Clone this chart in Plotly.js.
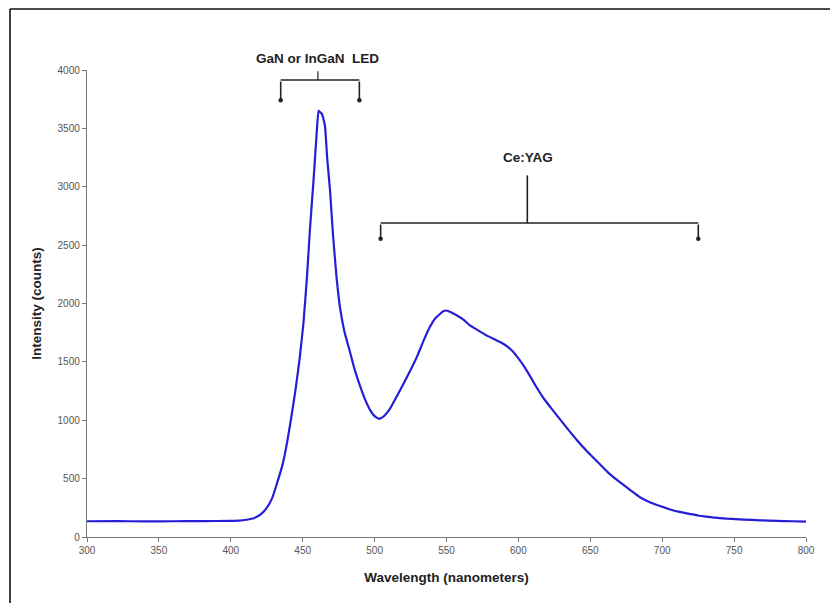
<!DOCTYPE html>
<html>
<head>
<meta charset="utf-8">
<script src="https://cdn.plot.ly/plotly-3.0.1.min.js"></script>
<style>
html,body{margin:0;padding:0;background:#fff;overflow:hidden;}
#chart{width:830px;height:603px;}
</style>
</head>
<body>
<div id="chart"></div>
<script>
// Emission spectrum of a white LED
const wavelength = [300,320,340,360,380,400,406,411,416,421,425,429,432,436,439,442,445,448,450.5,453,455,457.5,459.5,461,462,463.5,465.5,467,469,471,473.5,476,479,483,486,490,493,497,500,503,506,510.5,515,520,525,529.5,534,538.5,542,545.5,548,550,553,557,562,566,572,578,584,589.5,593,596.5,600,603.5,608,612.5,618,624,632,640,648,656.5,663,670.5,678,684.5,691,698.5,705,712,720,726,735,745,757,768,780,790,800];
const intensity = [135,136,134,135,136,138,140,148,160,195,250,340,455,620,800,1020,1260,1540,1830,2230,2630,3050,3420,3650,3640,3620,3520,3250,2970,2600,2230,1960,1760,1580,1440,1290,1190,1085,1035,1012,1030,1095,1195,1310,1430,1545,1680,1800,1870,1910,1935,1940,1925,1900,1860,1815,1770,1725,1690,1655,1625,1585,1530,1470,1380,1285,1180,1085,960,840,730,625,545,470,400,340,300,265,238,215,196,182,168,157,149,143,138,135,132];
const xTicks = [300,350,400,450,500,550,600,650,700,750,800];
const yTicks = [0,500,1000,1500,2000,2500,3000,3500,4000];
const xTitle = 'Wavelength (nanometers)';
const yTitle = 'Intensity (counts)';
const ledLabel = 'GaN or InGaN&nbsp; LED';
const yagLabel = 'Ce:YAG';

const trace = {
  x: wavelength, y: intensity, type: 'scatter', mode: 'lines',
  line: {color: 'rgb(38,30,215)', width: 2.2, shape: 'spline', smoothing: 0.35},
  hoverinfo: 'x+y'
};

const font = 'Liberation Sans, Arial, sans-serif';
const bracketColor = '#222';
const labelSize = 13.5;

function leg(x, y0, y1) {
  return {x: x, y: y1, xref: 'x', yref: 'y', ax: x, ay: y0, axref: 'x', ayref: 'y',
    text: '', showarrow: true, arrowhead: 6, arrowsize: 0.7, arrowwidth: 1.6, arrowcolor: bracketColor};
}

const layout = {
  width: 830, height: 603,
  margin: {l: 87, r: 24, t: 70, b: 66},
  paper_bgcolor: '#fff', plot_bgcolor: '#fff',
  showlegend: false,
  font: {family: font, size: 10, color: '#444'},
  xaxis: {
    range: [300, 800], tickvals: xTicks, ticktext: xTicks.map(String),
    showgrid: false, zeroline: false, showline: true, linecolor: '#777', linewidth: 1.2,
    ticks: 'outside', ticklen: 4, tickcolor: '#777',
    tickfont: {family: font, size: 10, color: '#555'},
    title: {text: '<b>' + xTitle + '</b>', font: {family: font, size: labelSize, color: '#222'}, standoff: 17}
  },
  yaxis: {
    range: [0, 4000], tickvals: yTicks, ticktext: yTicks.map(String),
    showgrid: false, zeroline: false, showline: true, linecolor: '#777', linewidth: 1.2,
    ticks: 'outside', ticklen: 4, tickcolor: '#777',
    tickfont: {family: font, size: 10, color: '#555'},
    title: {text: '<b>' + yTitle + '</b>', font: {family: font, size: labelSize, color: '#222'}, standoff: 12}
  },
  shapes: [
    // outer frame (top and left)
    {type: 'line', xref: 'paper', yref: 'paper', x0: -0.1071, x1: -0.1071, y0: -0.2, y1: 1.1306, line: {color: '#111', width: 1.6}},
    {type: 'line', xref: 'paper', yref: 'paper', x0: -0.1071, x1: 1.2, y0: 1.1306, y1: 1.1306, line: {color: '#111', width: 1.6}},
    // LED bracket
    {type: 'line', xref: 'x', yref: 'y', x0: 434.7, x1: 489.4, y0: 3914, y1: 3914, line: {color: bracketColor, width: 1.6}},
    {type: 'line', xref: 'x', yref: 'y', x0: 460.6, x1: 460.6, y0: 3914, y1: 3990, line: {color: bracketColor, width: 1.2}},
    // Ce:YAG bracket
    {type: 'line', xref: 'x', yref: 'y', x0: 504.2, x1: 725.1, y0: 2690, y1: 2690, line: {color: bracketColor, width: 1.6}},
    {type: 'line', xref: 'x', yref: 'y', x0: 606.2, x1: 606.2, y0: 2690, y1: 3097, line: {color: bracketColor, width: 1.6}}
  ],
  annotations: [
    {x: 460.6, y: 1.0236, xref: 'x', yref: 'paper', text: '<b>' + ledLabel + '</b>', showarrow: false,
      font: {family: font, size: labelSize, color: '#222'}, xanchor: 'center', yanchor: 'middle'},
    {x: 606.8, y: 3251, xref: 'x', yref: 'y', text: '<b>' + yagLabel + '</b>', showarrow: false,
      font: {family: font, size: labelSize, color: '#222'}, xanchor: 'center', yanchor: 'middle'},
    leg(434.7, 3914, 3740),
    leg(489.4, 3914, 3740),
    leg(504.2, 2690, 2555),
    leg(725.1, 2690, 2555)
  ]
};

Plotly.newPlot('chart', [trace], layout, {displayModeBar: false, staticPlot: true});
</script>
</body>
</html>
